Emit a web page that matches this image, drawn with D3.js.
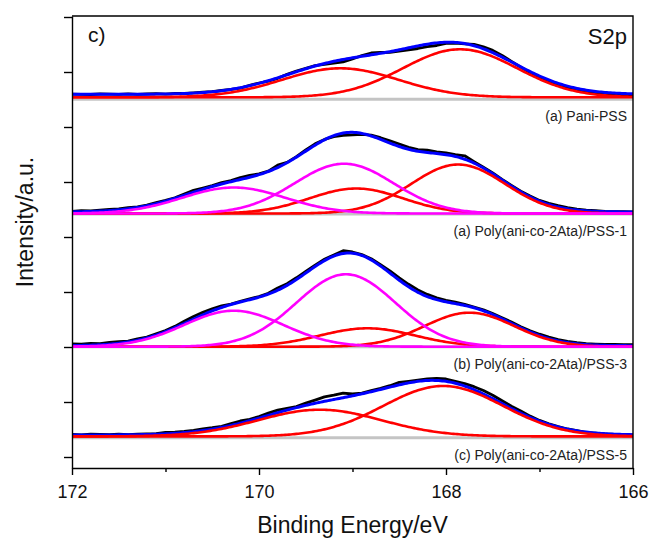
<!DOCTYPE html>
<html>
<head>
<meta charset="utf-8">
<script src="https://cdn.jsdelivr.net/npm/d3@7"></script>
<style>
    html, body { margin: 0; padding: 0; background: #fff; }
    svg { display: block; font-family: "Liberation Sans", Arial, sans-serif; }
</style>
</head>
<body>
<svg id="chart" width="649" height="538"></svg>
<script>
'use strict';

// binding energy grid of the measured spectra (eV), 172 -> 166
const energy = d3.range(61).map(i => Math.round((172 - i * 0.1) * 10) / 10);

// measured counts above each spectrum's own baseline (a.u.)
const countsPani = [5.2, 5.0, 4.8, 5.3, 5.1, 4.9, 5.4, 5.0, 5.3, 5.6, 5.2, 5.8, 6.0, 6.5, 7.2, 7.6, 8.8, 9.9, 11.2, 13.9, 16.3,
    18.2, 21.0, 24.9, 28.2, 31.0, 33.6, 35.0, 36.2, 37.5, 40.3, 43.8, 46.3, 46.8, 47.0, 48.2, 49.5, 50.8, 52.6, 53.8, 55.9,
    56.2, 55.5, 55.0, 52.4, 48.9, 43.8, 37.9, 32.0, 26.9, 22.1, 18.2, 14.8, 11.8, 9.9, 8.0, 6.6, 5.0, 4.2, 3.6, 3.2];
const countsPss1 = [2.6, 3.4, 3.1, 3.9, 4.6, 5.0, 6.3, 7.2, 8.9, 11.4, 13.6, 16.2, 19.9, 23.6, 25.9, 28.4, 31.4, 33.3, 36.4, 38.6, 40.1,
    42.9, 48.8, 51.6, 57.4, 64.0, 70.2, 74.6, 77.4, 78.6, 79.2, 79.6, 78.9, 76.3, 73.1, 70.0, 66.7, 64.4, 63.8, 62.2, 61.0,
    59.3, 58.2, 52.4, 46.8, 41.0, 34.5, 28.6, 22.8, 17.9, 13.6, 10.6, 8.3, 6.4, 4.9, 3.9, 3.3, 2.6, 2.3, 2.4, 2.2];
const countsPss3 = [2.8, 2.5, 3.3, 3.1, 4.2, 5.0, 5.6, 7.9, 9.6, 12.9, 16.1, 20.3, 25.4, 30.2, 34.3, 37.8, 40.8, 42.6, 45.3, 47.9, 50.1,
    53.4, 58.7, 63.0, 68.9, 75.2, 81.6, 87.4, 91.8, 96.0, 94.7, 92.1, 87.9, 82.0, 75.9, 68.9, 62.4, 56.8, 52.3, 48.9, 46.4,
    44.5, 42.3, 39.6, 36.9, 33.1, 29.0, 24.6, 19.9, 15.8, 12.5, 9.6, 7.2, 5.4, 4.0, 3.1, 2.6, 2.2, 2.3, 2.0, 2.1];
const countsPss5 = [3.4, 2.9, 3.6, 3.3, 3.0, 3.5, 3.1, 3.6, 3.9, 4.1, 5.3, 5.6, 6.2, 7.4, 8.9, 10.0, 11.4, 14.0, 16.7, 18.4, 21.1,
    24.6, 27.5, 29.4, 31.2, 34.6, 37.6, 40.8, 42.5, 44.6, 43.7, 44.5, 47.1, 49.4, 52.0, 55.3, 56.3, 57.5, 58.8, 59.4, 58.7,
    56.3, 54.1, 51.0, 47.2, 42.5, 37.0, 31.4, 26.8, 21.6, 17.3, 13.8, 11.0, 8.7, 7.0, 5.4, 4.6, 3.8, 3.4, 3.1, 2.9];

const spectra = [countsPani, countsPss1, countsPss3, countsPss5];
const sampleNames = ['(a) Pani-PSS', '(a) Poly(ani-co-2Ata)/PSS-1',
    '(b) Poly(ani-co-2Ata)/PSS-3', '(c) Poly(ani-co-2Ata)/PSS-5'];

// vertical offset of each stacked spectrum (a.u.)
const baselineLevel = [357.7, 243, 110.3, 19.3];

// fitted gaussian components: centre (eV), sigma (eV), height (a.u.), component group
const peakCenter = [[169.13, 167.85], [170.27, 169.09, 168.96, 167.87], [170.27, 169.07, 168.84, 167.75], [169.35, 168.03]];
const peakSigma = [[0.62, 0.61], [0.55, 0.53, 0.50, 0.50], [0.53, 0.53, 0.51, 0.48], [0.66, 0.64]];
const peakHeight = [[29, 48], [26, 49.8, 25, 49], [36, 72.4, 18.4, 34], [26.7, 50.4]];
const peakGroup = [[0, 0], [1, 1, 0, 0], [1, 1, 0, 0], [0, 0]];
const fitBackground = [5, 2, 1, 2.7];
const peakBackground = [2, 0.5, 0, 1.3];

const majorTicks = [172, 170, 168, 166];
const minorTicks = [171, 169, 167];

(function () {
    const svg = d3.select('#chart');
    const left = 72;
    const right = 633;
    const top = 16;
    const bottom = 468;

    const x = d3.scaleLinear().domain([172, 166]).range([left, right]);
    const y = d3.scaleLinear().domain([-11, 441]).range([bottom, top]);
    const groupColor = d3.scaleOrdinal().domain([0, 1]).range(['#ff0000', '#ff00ff']);

    const gauss = (e, c, s, h) => h * Math.exp(-((e - c) * (e - c)) / (2 * s * s));
    const fine = d3.range(0, 301).map(i => 172 - i * 0.02);

    svg.append('clipPath')
        .attr('id', 'plot-area')
        .append('rect')
        .attr('x', left)
        .attr('y', top)
        .attr('width', right - left)
        .attr('height', bottom - top);

    const plot = svg.append('g').attr('clip-path', 'url(#plot-area)');

    const line = d3.line()
        .x(d => x(d[0]))
        .y(d => y(d[1]));

    // grey baselines first
    plot.selectAll('.base')
        .data(baselineLevel)
        .enter().append('line')
        .attr('class', 'base')
        .attr('x1', x(172))
        .attr('x2', x(166))
        .attr('y1', d => y(d))
        .attr('y2', d => y(d))
        .attr('stroke', '#c4c4c4')
        .attr('stroke-width', 3);

    spectra.forEach((counts, p) => {
        const off = baselineLevel[p];
        const centers = peakCenter[p];

        // measured data
        plot.append('path')
            .datum(energy.map((e, i) => [e, off + counts[i]]))
            .attr('fill', 'none')
            .attr('stroke', '#000')
            .attr('stroke-width', 2.8)
            .attr('stroke-linejoin', 'round')
            .attr('d', line);

        // envelope of the fit
        plot.append('path')
            .datum(fine.map(e => [e, off + fitBackground[p] +
                d3.sum(centers, (c, k) => gauss(e, c, peakSigma[p][k], peakHeight[p][k]))]))
            .attr('fill', 'none')
            .attr('stroke', '#0000ff')
            .attr('stroke-width', 3)
            .attr('d', line);

        // components, red group drawn before the magenta group
        const order = d3.range(centers.length).sort((a, b) => peakGroup[p][a] - peakGroup[p][b]);
        order.forEach(k => {
            plot.append('path')
                .datum(fine.map(e => [e, off + peakBackground[p] +
                    gauss(e, centers[k], peakSigma[p][k], peakHeight[p][k])]))
                .attr('fill', 'none')
                .attr('stroke', groupColor(peakGroup[p][k]))
                .attr('stroke-width', 2.6)
                .attr('d', line);
        });
    });

    // sample labels under each trace
    svg.selectAll('.sample')
        .data(sampleNames)
        .enter().append('text')
        .attr('class', 'sample')
        .attr('x', right - 6)
        .attr('y', (d, i) => y(baselineLevel[i]) + 22)
        .attr('text-anchor', 'end')
        .attr('font-size', '14px')
        .attr('fill', '#222')
        .text(d => d);

    // axes
    const xAxis = svg.append('g')
        .attr('transform', 'translate(0,' + bottom + ')')
        .call(d3.axisBottom(x).tickValues(majorTicks).tickSize(7).tickSizeOuter(0)
            .tickPadding(10).tickFormat(d3.format('d')));
    svg.append('g')
        .attr('transform', 'translate(0,' + bottom + ')')
        .call(d3.axisBottom(x).tickValues(minorTicks).tickSize(4).tickSizeOuter(0).tickFormat(''))
        .select('.domain').remove();
    xAxis.selectAll('text')
        .attr('font-size', '18px')
        .attr('font-family', '"Liberation Sans", Arial, sans-serif')
        .attr('fill', '#111');

    svg.append('g')
        .attr('transform', 'translate(' + left + ',0)')
        .call(d3.axisLeft(y).tickValues(d3.range(0, 441, 55)).tickSize(8).tickSizeOuter(0).tickFormat(''));

    svg.selectAll('.domain, .tick line')
        .attr('stroke', '#000')
        .attr('stroke-width', 1.4);

    // frame top and right
    svg.append('path')
        .attr('d', 'M' + left + ',' + top + 'H' + right + 'V' + bottom)
        .attr('fill', 'none')
        .attr('stroke', '#000')
        .attr('stroke-width', 1.4);

    svg.append('text')
        .attr('x', 88)
        .attr('y', 42)
        .attr('font-size', '21px')
        .attr('fill', '#111')
        .text('c)');

    svg.append('text')
        .attr('x', right - 6)
        .attr('y', 44)
        .attr('text-anchor', 'end')
        .attr('font-size', '22px')
        .attr('fill', '#111')
        .text('S2p');

    svg.append('text')
        .attr('x', (left + right) / 2)
        .attr('y', 533)
        .attr('text-anchor', 'middle')
        .attr('font-size', '23px')
        .attr('fill', '#111')
        .text('Binding Energy/eV');

    svg.append('text')
        .attr('transform', 'translate(33,' + 222 + ') rotate(-90)')
        .attr('text-anchor', 'middle')
        .attr('font-size', '23px')
        .attr('fill', '#111')
        .text('Intensity/a.u.');
}());
</script>
</body>
</html>
